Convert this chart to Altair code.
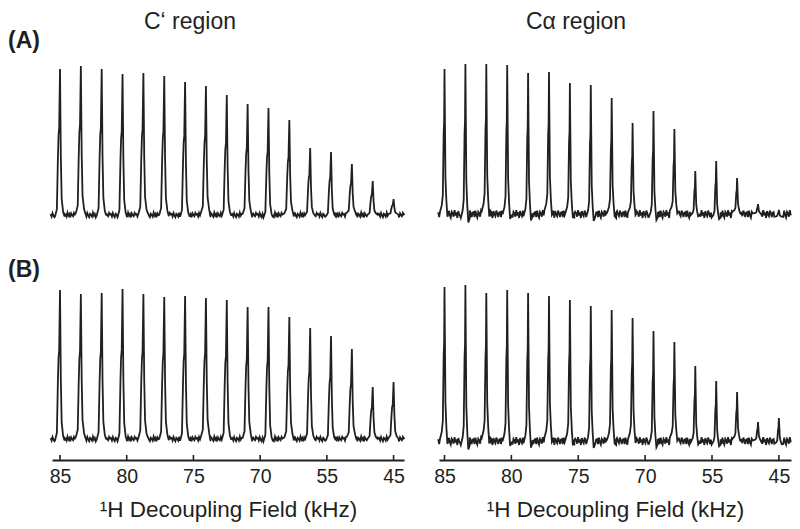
import altair as alt
import pandas as pd

INK = "#231f20"
FONT = "Liberation Sans"

# ---- data ----
axis_labels = ["85", "80", "75", "70", "55", "45"]
tick_pos = [0, 3.2, 6.4, 9.6, 12.8, 16.0]          # in spectrum-index units

col_titles = ["C\u2018 region", "C\u03b1 region"]
row_labels = ["(A)", "(B)"]
x_title = "\u00b9H Decoupling Field (kHz)"

# peak heights (arbitrary units) of the 17 spectra in each panel
heights_A_left = [146, 149, 146, 141, 142, 139, 133, 129, 120, 111, 107, 95, 67, 63, 51, 34, 16]
heights_A_right = [145, 150, 150, 149, 141, 142, 131, 129, 116, 91, 103, 85, 43, 53, 36, 10, 4]
heights_B_left = [149, 145, 146, 150, 145, 142, 143, 141, 139, 132, 132, 122, 111, 103, 90, 52, 57]
heights_B_right = [154, 156, 148, 151, 148, 145, 141, 135, 131, 123, 110, 99, 75, 60, 49, 19, 23]

# baseline ripple (estimated from the traces)
ripple_left = [1.0, -1.5, 2.0, -0.5, -2.2, 1.2, 0.2, -1.7, 2.4, -0.7, 1.1, -2.4, 1.6, -0.2, -1.2, 2.2, 0.5]
ripple_right = [1.8, -3.0, 3.3, -1.2, -3.6, 2.2, 0.6, -2.7, 3.8, -1.4, 1.7, -4.0, 2.9, -0.4, -2.2, 3.4, 0.7, -3.1, 1.3]

# line shapes (offset in spectrum units, fraction of height)
shape_left = [(-0.24, 0.0), (-0.15, 0.05), (-0.1, 0.4), (-0.07, 0.55), (-0.04, 0.6),
              (0.0, 1.0), (0.04, 0.4), (0.08, 0.12), (0.15, 0.03), (0.22, 0.0)]
shape_right = [(-0.22, 0.0), (-0.13, 0.05), (-0.08, 0.12), (-0.04, 0.55), (-0.018, 0.63),
               (0.0, 1.0), (0.022, 0.63), (0.045, 0.24), (0.09, 0.08), (0.14, -0.03), (0.21, 0.0)]


def build_trace(heights, shape, ripple, start, end):
    rows = []
    c = 0
    n = len(heights)
    lo = shape[0][0]
    hi = shape[-1][0]
    gaps = [(start, lo)] + [(j + hi, j + 1 + lo) for j in range(n - 1)] + [(n - 1 + hi, end)]
    for a, b in gaps:
        m = 0
        while a + 0.045 * m < b:
            rows.append((a + 0.045 * m, ripple[c % len(ripple)]))
            c += 1
            m += 1
    for j, h in enumerate(heights):
        for off, frac in shape:
            rows.append((j + off, frac * h + ripple[(c + j) % len(ripple)] * (1 - abs(frac))))
    rows.sort()
    return pd.DataFrame(rows, columns=["k", "v"])


# ---- layout (pixels inside the 784-wide plot area) ----
LEFT_DOM, LEFT_RANGE = [-0.384, 16.5], [44, 396]
RIGHT_DOM, RIGHT_RANGE = [-0.263, 16.58], [431, 783]
BASE = {"A_left": 207, "A_right": 206, "B_left": 431, "B_right": 433}
H = 452

label_expr = "[" + ",".join("'%s'" % s for s in axis_labels) + "][round(datum.index*%d)]" % (len(axis_labels) - 1)


def make_axis():
    return alt.Axis(values=tick_pos, labelExpr=label_expr, title=x_title, orient="bottom",
                    ticks=False, grid=False, domain=True, domainWidth=2, domainColor=INK,
                    labelFont=FONT, labelFontSize=19.5, labelColor=INK, labelPadding=7,
                    labelFlush=False, labelOverlap=False,
                    titleFont=FONT, titleFontSize=22.5, titleFontWeight="normal",
                    titleColor=INK, titlePadding=13)


def panel(heights, shape, ripple, dom, rng, base, start, end, with_axis):
    df = build_trace(heights, shape, ripple, start, end)
    xenc = alt.X("k:Q", scale=alt.Scale(domain=dom, range=rng),
                 axis=make_axis() if with_axis else None)
    yenc = alt.Y("v:Q", scale=alt.Scale(domain=[0, 150], range=[base, base - 150]), axis=None)
    line = alt.Chart(df).mark_line(color=INK, strokeWidth=1.8, clip=False).encode(x=xenc, y=yenc)
    if not with_axis:
        return line
    tdf = pd.DataFrame({"k": tick_pos})
    ticks = alt.Chart(tdf).mark_rule(color=INK, strokeWidth=1.6).encode(
        x=xenc, y=alt.value(H - 5), y2=alt.value(H))
    return alt.layer(line, ticks)


pA_l = panel(heights_A_left, shape_left, ripple_left, LEFT_DOM, LEFT_RANGE, BASE["A_left"], -0.45, 16.55, False)
pA_r = panel(heights_A_right, shape_right, ripple_right, RIGHT_DOM, RIGHT_RANGE, BASE["A_right"], -0.3, 16.6, False)
pB_l = panel(heights_B_left, shape_left, ripple_left, LEFT_DOM, LEFT_RANGE, BASE["B_left"], -0.45, 16.55, True)
pB_r = panel(heights_B_right, shape_right, ripple_right, RIGHT_DOM, RIGHT_RANGE, BASE["B_right"], -0.3, 16.6, True)


def text_layer(txt, x, y, size, weight="normal", align="center"):
    return alt.Chart(pd.DataFrame({"t": [txt]})).mark_text(
        font=FONT, fontSize=size, fontWeight=weight, color=INK, align=align, baseline="alphabetic"
    ).encode(text="t:N", x=alt.value(x), y=alt.value(y))


t1 = text_layer(col_titles[0], 182, 21, 23)
t2 = text_layer(col_titles[1], 568, 21, 23)
t3 = text_layer(row_labels[0], 0, 39.5, 23, "bold", "left")
t4 = text_layer(row_labels[1], 0, 268.5, 23, "bold", "left")

chart = alt.layer(pA_l, pA_r, pB_l, pB_r, t1, t2, t3, t4).resolve_scale(
    x="independent", y="independent"
).resolve_axis(x="independent", y="independent").properties(
    width=784, height=H,
    autosize=alt.AutoSizeParams(type="none"),
    padding={"left": 0, "top": 0, "right": 0, "bottom": 69},
).configure_view(stroke=None)

chart.save("out.html", embed_options={"renderer": "svg", "actions": False})
